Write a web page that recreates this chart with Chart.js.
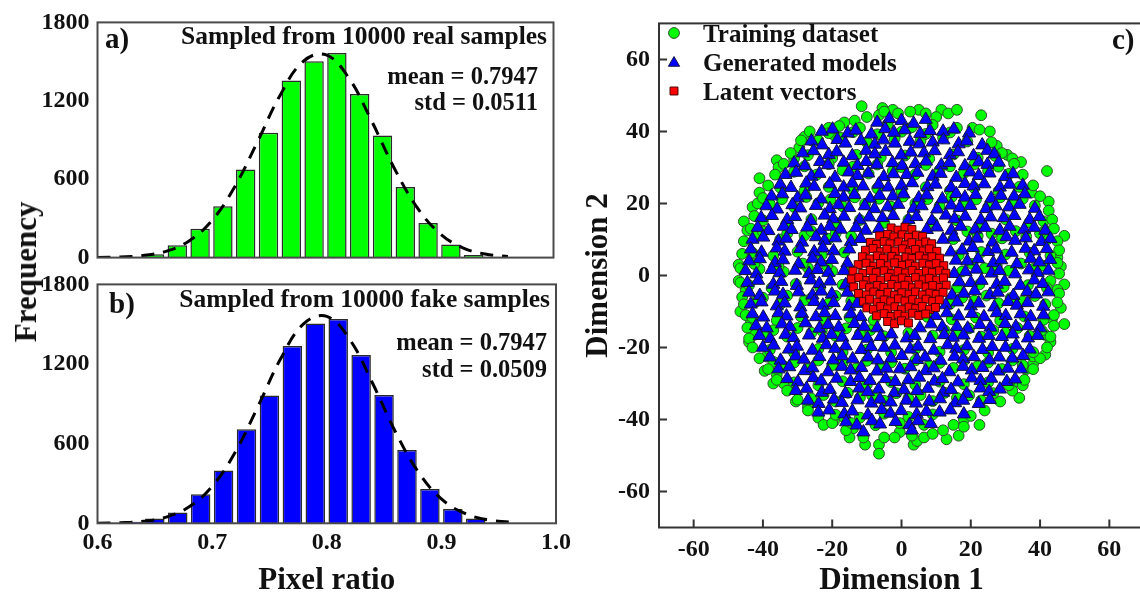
<!DOCTYPE html>
<html>
<head>
<meta charset="utf-8">
<script src="https://cdn.jsdelivr.net/npm/chart.js@4.4.1/dist/chart.umd.min.js"></script>
<style>
  body { margin: 0; width: 1140px; height: 595px; overflow: hidden; background: #fff; position: relative; }
  canvas { position: absolute; }
  #freq { position: absolute; left: 26px; top: 272px; transform: translate(-50%, -50%) rotate(-90deg);
          font: bold 31px 'Liberation Serif', 'Times New Roman', serif; color: #111; white-space: nowrap; }
</style>
</head>
<body>
<canvas id="histReal" width="580" height="280" style="left:0;top:0"></canvas>
<canvas id="histFake" width="580" height="333" style="left:0;top:262px"></canvas>
<canvas id="scatter" width="600" height="595" style="left:580px;top:0"></canvas>
<div id="freq">Frequency</div>
<script>
// ---- histogram data (bin centres, counts) ----
const binCenters = [0.61, 0.63, 0.65, 0.67, 0.69, 0.71, 0.73, 0.75, 0.77, 0.79, 0.81, 0.83, 0.85, 0.87, 0.89, 0.91, 0.93, 0.95, 0.97];
const realCounts = [2, 6, 25, 95, 220, 393, 675, 955, 1355, 1502, 1565, 1252, 935, 540, 265, 100, 20, 4, 1];
const fakeCounts = [2, 12, 37, 82, 219, 398, 709, 963, 1336, 1506, 1539, 1268, 966, 553, 259, 107, 37, 6, 2];

// dashed normal-fit curves
const fitX = [0.60, 0.62, 0.64, 0.66, 0.68, 0.70, 0.72, 0.74, 0.76, 0.78, 0.80, 0.82, 0.84, 0.86, 0.88, 0.90, 0.92, 0.94, 0.96];
const realFit = [1, 5, 16, 48, 126, 280, 536, 880, 1239, 1498, 1553, 1381, 1054, 690, 388, 187, 77, 27, 8];
const fakeFit = [1, 4, 15, 47, 124, 278, 534, 880, 1243, 1504, 1559, 1386, 1055, 688, 385, 184, 76, 27, 8];

const freqTicks = [0, 600, 1200, 1800];
const ratioTicks = [0.6, 0.7, 0.8, 0.9, 1.0];
const dimTicks = [-60, -40, -20, 0, 20, 40, 60];

// ---- scatter data ----
const trainingDataset = [
  // outer points
  [-11.5,47],[-5.5,46.5],[-2.5,46],[-6.5,44.5],[5,46],[11.5,46],[13.5,45],[16,46],[23,44.5],[20.5,41],[25.5,40],
  [-16.5,42.5],[-13.5,43],[-21,41],[-19,38.5],[-28,38.5],[-26,37.5],[-29.5,35.5],[-36,32],[-35.5,30],[-31,32.5],
  [-41,27],[-41,23],[-43,19],[-41.5,20],[-45.5,15],[-44.5,12.5],[-47,3],[-47,-1.5],[-45,-4],
  [27.5,36],[30.5,33.5],[32,32.5],[34.5,31.5],[42,29],[37.5,23],[42.5,20.5],[41,15],[47,11],[41.5,12.5],
  [45,5],[46,2.5],[47,-2.5],[45,-4],[43,-1.5],
  [-46.5,-10],[-43.5,-12.5],[-44,-18.5],[-42.5,-16.5],[-39,-22.5],[-37,-24],[-39.5,-26.5],[-36,-27.5],[-37,-30],
  [-34,-30],[-30.5,-35],[-27,-36.5],[-24,-39.5],[-22.5,-41.5],[-19.5,-40.5],[-16.5,-39.5],[-14,-42.5],[-15,-45],
  [-10.5,-47],[-6.5,-47],[-6.5,-49.5],[-5,-45],[-0.5,-43.5],[3.5,-47],[4.5,-46],[6.5,-45],[13,-45.5],[16.5,-44.5],
  [15,-41.5],[18,-40],[20,-39],[22.5,-41.5],[34,-34],[33,-29.5],[35,-30.5],[36,-26],[38,-24.5],[38,-22.5],
  [41.5,-22],[43,-18.5],[41.5,-16.5],[43.5,-12],[47,-13.5],[46,-9],
  // fringe just outside the triangles
  [-10,44],[-26.5,40],[-29,37.5],[-32,34],[-34,31],[-36.5,28],[-38.5,25],[-40,21.5],[-42.5,16.5],[-43.5,13],
  [-45.5,9.5],[-46,6],[-46.5,2],[-46.5,-2],[-46,-6],[-45.5,-8],[-45,-11],[-44.5,-14.5],[-44,-17.5],[-43,-20],
  [-41,-23],[-38.5,-26],[-36,-29],[-33,-32],[-30,-34.5],[-27,-37.5],[-20,-41],[-16,-43],[-11,-45],[-2,-45],[3,-44.5],[9,-44],
  [10,44],[22.5,40.5],[26,37],[29,34],[32.5,31],[35,28],[38,25],[40,22],[42.5,18],[43.5,15.5],[44,13],[45,9.5],
  [45.5,7],[45,3.5],[45.5,0.5],[45.5,-5],[45,-7.5],[44,-11],[44,-14],[43,-17],[42,-20],[40,-23],[38,-26],
  [35.5,-29],[32,-32],[28.5,-35],[24,-37.5],[18,-42],[12,-43],
  [-5,45.5],[-1,45],[2.5,45.5],[7,45],
  // inside the ring
  [-18,41.5],[-12,41],[-4,42],[3,41.2],[9,41.8],[16,41],
  [-24,37.5],[-17.5,38.2],[-10,37],[-2,38],[5.5,37.4],[12,38.3],[19,37.2],
  [-27,33.4],[-20,32.6],[-13,33.5],[-6,32.8],[1,33.3],[8,32.4],[15,33.6],[22,32.7],[27,33.2],
  [-31,28.8],[-24.5,28],[-17,29.2],[-9.5,28.3],[-2.5,29],[4,28.1],[11,29.3],[18,28.4],[25,29.1],[31,28.2],
  [-35,24.4],[-28,23.5],[-21,24.6],[-14,23.7],[-7,24.2],[0,23.4],[7,24.5],[14,23.6],[21,24.3],[28,23.4],[34,24.6],
  [-38,19.8],[-31,19],[-24,20.1],[-17,19.2],[-10.5,19.9],[-3,19.1],[4,20],[11,19.3],[18,19.8],[25,19],[32,20],[38.5,19.4],
  [-40,15.3],[-33,14.5],[-26,15.6],[-19,14.7],[-12,15.4],[-5,14.6],[2,15.5],[9,14.8],[16,15.3],[23,14.5],[30,15.6],[37,14.8],
  [-42,10.8],[-35,10],[-28,11.1],[-21,10.2],[-14.5,10.9],[15,10.1],[22,11],[29,10.3],[36,10.8],[42,10],
  [-43,6.3],[-37,5.5],[-30,6.6],[-23,5.7],[-16.5,6.4],[16.5,5.6],[23,6.5],[30,5.8],[37,6.3],[43,5.5],
  [-41,1.8],[-34,1],[-27,2.1],[-20,1.2],[-15.5,1.9],[17.5,1.1],[24,2],[31,1.3],[38,1.8],
  [-44,-2.7],[-37.5,-3.5],[-30.5,-2.4],[-23.5,-3.3],[-17,-2.6],[16,-3.4],[22.5,-2.5],[29.5,-3.2],[36.5,-2.7],[42,-3.5],
  [-42,-7.2],[-35,-8],[-28,-6.9],[-21,-7.8],[-14.5,-7.1],[14,-7.9],[21,-7],[28,-7.7],[35,-7.2],[41.5,-8],
  [-43,-11.7],[-36,-12.5],[-29,-11.4],[-22,-12.3],[-15,-11.6],[-8,-12.4],[7.5,-11.5],[14.5,-12.2],[21.5,-11.7],[28.5,-12.5],[35.5,-11.4],[41,-12.3],
  [-40,-16.2],[-33,-17],[-26,-15.9],[-19,-16.8],[-12,-16.1],[-5,-16.9],[2,-16],[9,-16.7],[16,-16.2],[23,-17],[30,-15.9],[37,-16.8],
  [-38,-20.7],[-31,-21.5],[-24,-20.4],[-17,-21.3],[-10,-20.6],[-3,-21.4],[4,-20.5],[11,-21.2],[18,-20.7],[25,-21.5],[32,-20.4],[38,-21.3],
  [-34,-25.2],[-27,-26],[-20,-24.9],[-13,-25.8],[-6,-25.1],[1,-25.9],[8,-25],[15,-25.7],[22,-25.2],[29,-26],[35,-24.9],
  [-31,-29.7],[-24,-30.5],[-17,-29.4],[-10,-30.3],[-3,-29.6],[4,-30.4],[11,-29.5],[18,-30.2],[25,-29.7],[31,-30.5],
  [-26,-34.2],[-19,-35],[-12,-33.9],[-5,-34.8],[2,-34.1],[9,-34.9],[16,-34],[23,-34.7],
  [-19,-38.7],[-12,-39.5],[-5,-38.4],[2,-39.3],[9,-38.6],
  // more green showing between the triangles
  [-21,39.5],[-14,39.8],[-7,39.2],[0,39.9],[7,39.3],[14,39.7],
  [-28,30.3],[-21,30.9],[-14,30.2],[-7,30.8],[0,30.1],[7,30.7],[14,30.3],[21,30.9],[28,30.2],
  [-34.5,21.2],[-27.5,21.8],[-20.5,21.1],[-13.5,21.7],[-6.5,21.3],[0.5,21.9],[7.5,21.2],[14.5,21.8],[21.5,21.1],[28.5,21.7],[35,21.3],
  [-40,12.2],[-33,11.6],[-26,12.3],[-19,11.7],[19,12.2],[26,11.6],[33,12.3],[40,11.7],
  [-42.5,3.2],[-35.5,2.6],[-28.5,3.3],[-21.5,2.7],[20.5,3.2],[27.5,2.6],[34.5,3.3],[41,2.7],
  [-40,-6.2],[-33,-5.6],[-26,-6.3],[-19,-5.7],[17.5,-6.2],[24.5,-5.6],[31.5,-6.3],[38.5,-5.7],
  [-37,-15.2],[-30,-14.6],[-23,-15.3],[-16,-14.7],[-9,-15.2],[12.5,-15.3],[19.5,-14.7],[26.5,-15.2],[33.5,-14.6],[40.5,-15.3],
  [-31,-24.2],[-24,-23.6],[-17,-24.3],[-10,-23.7],[-3,-24.2],[4,-23.6],[11,-24.3],[18,-23.7],[25,-24.2],[32,-23.6],
  [-22.5,-33.2],[-15.5,-32.6],[-8.5,-33.3],[-1.5,-32.7],[5.5,-33.2],[12.5,-32.6],[19.5,-33.3],[26.5,-32.7],
  [-14.5,-41],[-7.5,-41.6],[-0.5,-41],[6.5,-41.5]
];

const generatedModels = [
  [-7,42.5],[-3.5,43.5],[0,43],[3.5,42.2],[7,43.3],
  [-23,40],[-19.9,40.6],[-15.5,39.5],[-13.2,40.3],[-8.7,39.2],[-4.7,40.7],[-2.2,39.7],[0.9,40.4],[5.4,39.4],[8.2,40.2],[12,40],[15.1,40.6],[19.5,39.5],
  [-26,37.3],[-22.9,36.2],[-18.5,37.7],[-16.2,36.7],[-11.7,37.4],[-7.7,36.4],[-5.2,37.6],[-1.9,36.7],[2.4,37.2],[5.2,36.5],[9,37],[12.1,37.6],[16.5,36.5],[18.8,37.3],[23.3,36.2],
  [-28.5,34],[-25.4,34.6],[-21,33.5],[-18.7,34.3],[-14.2,33.2],[-10.2,34.7],[-7.7,33.7],[-4.6,34.4],[-0.1,33.4],[2.7,34.2],[6.5,34],[9.6,34.6],[14,33.5],[16.3,34.3],[20.8,33.2],[24.8,34.7],[26.8,33.7],
  [-31,31.2],[-27.9,30.4],[-23.5,31.6],[-21.2,30.7],[-16.7,31.4],[-12.7,30.5],[-10.2,31.6],[-7.1,30.8],[-2.6,31.3],[0.2,30.5],[4,31],[7.1,31.7],[11.5,30.6],[13.8,31.3],[18.3,30.4],[22.3,31.5],[24.8,30.8],[28.1,31.4],
  [-33.5,28],[-30.4,28.6],[-26,27.5],[-23.7,28.3],[-19.2,27.2],[-15.2,28.7],[-12.7,27.7],[-9.6,28.4],[-5.1,27.4],[-2.3,28.2],[1.5,28],[4.6,28.6],[9,27.5],[11.3,28.3],[15.8,27.2],[19.8,28.7],[22.3,27.7],[25.4,28.4],[29.9,27.4],[32.2,28.2],
  [-35,25.3],[-31.9,24.4],[-27.5,25.6],[-25.2,24.7],[-20.7,25.4],[-16.7,24.5],[-14.2,25.6],[-11.1,24.8],[-6.6,25.3],[-3.8,24.5],[0,25],[3.1,25.7],[7.5,24.6],[9.8,25.3],[14.3,24.4],[18.3,25.5],[20.8,24.8],[23.9,25.4],[28.4,24.5],[31.2,25.3],[35,25],
  [-37.5,22],[-34.4,22.6],[-30,21.5],[-27.7,22.3],[-23.2,21.2],[-19.2,22.7],[-16.7,21.7],[-13.6,22.4],[-9.1,21.4],[-6.3,22.2],[-2.5,22],[0.6,22.6],[5,21.5],[7.3,22.3],[11.8,21.2],[15.8,22.7],[18.3,21.7],[21.4,22.4],[25.9,21.4],[28.7,22.2],[32.5,22],[35.6,22.6],
  [-39,19.3],[-35.9,18.4],[-31.5,19.6],[-29.2,18.7],[-24.7,19.4],[-20.7,18.5],[-18.2,19.6],[-15.1,18.8],[-10.6,19.3],[-7.8,18.5],[-4,19],[-0.9,19.7],[3.5,18.6],[5.8,19.3],[10.3,18.4],[14.3,19.5],[16.8,18.8],[19.9,19.4],[24.4,18.5],[27.2,19.3],[31,19],[34.1,19.7],[38.5,18.6],
  [-40.5,16],[-37.4,16.6],[-33,15.5],[-30.7,16.3],[-26.2,15.2],[-22.2,16.7],[-19.7,15.7],[-16.6,16.4],[-12.1,15.4],[-9.3,16.2],[-5.5,16],[-2.4,16.6],[2,15.5],[4.3,16.3],[8.8,15.2],[12.8,16.7],[15.3,15.7],[18.4,16.4],[22.9,15.4],[25.7,16.2],[29.5,16],[32.6,16.6],[37,15.5],[39.8,16.3],
  [-41.5,13.3],[-38.4,12.4],[-34,13.6],[-31.7,12.7],[-27.2,13.4],[-23.2,12.5],[-20.7,13.6],[-17.6,12.8],[-13.1,13.3],[-10.3,12.5],[-6.5,13],[7.3,12.7],[10.2,13.4],[14.4,12.5],[17.1,13.6],[21.3,12.8],[24.2,13.3],[28.4,12.5],[31.2,13.6],[35.4,12.8],[38.3,13.3],[41.5,12.5],
  [-43,10],[-39.9,10.6],[-35.5,9.5],[-33.2,10.3],[-28.7,9.2],[-24.7,10.7],[-22.2,9.7],[-19.1,10.4],[-14.6,9.4],[-11.8,10.2],[12,10],[15.1,10.6],[19.5,9.5],[21.8,10.3],[26.3,9.2],[30.3,10.7],[32.8,9.7],[35.9,10.4],[40.4,9.4],[43,10.2],
  [-43.5,7.3],[-40.4,6.4],[-36,7.6],[-33.7,6.7],[-29.2,7.4],[-25.2,6.5],[-22.7,7.6],[-19.6,6.8],[-15.1,7.3],[14.2,6.5],[17.5,7],[20.6,7.7],[25,6.6],[27.3,7.3],[31.8,6.4],[35.8,7.5],[38.3,6.8],[41.9,7.4],
  [-44,4],[-40.9,4.6],[-36.5,3.5],[-34.2,4.3],[-29.7,3.2],[-25.7,4.7],[-23.2,3.7],[-20.1,4.4],[-15.6,3.4],[15.7,4.2],[19,4],[22.1,4.6],[26.5,3.5],[28.8,4.3],[33.3,3.2],[37.3,4.7],[39.8,3.7],[42.9,4.4],
  [-45,1.3],[-41.9,0.4],[-37.5,1.6],[-35.2,0.7],[-30.7,1.4],[-26.7,0.5],[-24.2,1.6],[-21.1,0.8],[-16.6,1.3],[15.2,0.5],[18.5,1],[21.6,1.7],[26,0.6],[28.3,1.3],[32.8,0.4],[36.8,1.5],[39.3,0.8],[42.4,1.4],
  [-44.5,-2],[-41.4,-1.4],[-37,-2.5],[-34.7,-1.7],[-30.2,-2.8],[-26.2,-1.3],[-23.7,-2.3],[-20.6,-1.6],[-16.1,-2.6],[16.7,-1.8],[20,-2],[23.1,-1.4],[27.5,-2.5],[29.8,-1.7],[34.3,-2.8],[38.3,-1.3],[40.8,-2.3],
  [-44,-4.7],[-40.9,-5.6],[-36.5,-4.4],[-34.2,-5.3],[-29.7,-4.6],[-25.7,-5.5],[-23.2,-4.4],[-20.1,-5.2],[-15.6,-4.7],[14.6,-5.5],[18,-5],[21.1,-4.3],[25.5,-5.4],[27.8,-4.7],[32.3,-5.6],[36.3,-4.5],[38.8,-5.2],[42.4,-4.6],
  [-43.5,-8],[-40.4,-7.4],[-36,-8.5],[-33.7,-7.7],[-29.2,-8.8],[-25.2,-7.3],[-22.7,-8.3],[-19.6,-7.6],[-15.1,-8.6],[-12.8,-7.8],[12.8,-8.2],[16.1,-7.4],[20,-8.5],[22.3,-7.7],[26.8,-8.8],[30.8,-7.3],[33.3,-8.3],[36.4,-7.6],[40.9,-8.6],
  [-43,-10.7],[-39.9,-11.6],[-35.5,-10.4],[-33.2,-11.3],[-28.7,-10.6],[-24.7,-11.5],[-22.2,-10.4],[-19.1,-11.2],[-14.6,-10.7],[-11.8,-11.5],[9.8,-11.2],[13.1,-10.4],[16.5,-11.3],[20.3,-10.6],[23.8,-11.5],[27.5,-10.4],[30.1,-11.2],[34.4,-10.7],[37.3,-11.5],[41,-11],
  [-42,-14],[-38.9,-14.6],[-34.5,-13.5],[-32.2,-14.3],[-27.7,-13.2],[-23.7,-14.7],[-21.2,-13.7],[-18.1,-14.4],[-13.6,-13.4],[-10.8,-14.2],[-7,-14.6],[5.3,-14.6],[8.5,-13.5],[11.8,-14.3],[16,-14.2],[19.1,-14.7],[22.6,-13.7],[25.7,-14.4],[29.9,-13.4],[33,-14.2],[36.5,-14],[40,-14.6],
  [-41,-16.7],[-37.9,-17.6],[-33.5,-16.4],[-31.2,-17.3],[-26.7,-16.6],[-22.7,-17.5],[-20.2,-16.4],[-17.1,-17.2],[-12.6,-16.7],[-9.8,-17.5],[-6,-17],[-2.9,-16.3],[1.5,-17.4],[3.8,-16.7],[8.3,-17.6],[12.3,-16.5],[14.8,-17.2],[17.9,-16.6],[22.4,-17.5],[25.2,-16.7],[29,-17],[32.1,-16.3],[36.5,-17.4],[39.3,-16.7],
  [-40,-20],[-36.9,-19.4],[-32.5,-20.5],[-30.2,-19.7],[-25.7,-20.8],[-21.7,-19.3],[-19.2,-20.3],[-16.1,-19.6],[-11.6,-20.6],[-8.8,-19.8],[-5,-20],[-1.9,-19.4],[2.5,-20.5],[4.8,-19.7],[9.3,-20.8],[13.3,-19.3],[15.8,-20.3],[18.9,-19.6],[23.4,-20.6],[26.2,-19.8],[30,-20],[33.1,-19.4],[37,-20.5],
  [-38,-22.7],[-34.9,-23.6],[-30.5,-22.4],[-28.2,-23.3],[-23.7,-22.6],[-19.7,-23.5],[-17.2,-22.4],[-14.1,-23.2],[-9.6,-22.7],[-6.8,-23.5],[-3,-23],[0.1,-22.3],[4.5,-23.4],[6.8,-22.7],[11.3,-23.6],[15.3,-22.5],[17.8,-23.2],[20.9,-22.6],[25.4,-23.5],[28.2,-22.7],[32,-23],[35.1,-22.3],
  [-35.5,-26],[-32.4,-25.4],[-28,-26.5],[-25.7,-25.7],[-21.2,-26.8],[-17.2,-25.3],[-14.7,-26.3],[-11.6,-25.6],[-7.1,-26.6],[-4.3,-25.8],[-0.5,-26],[2.6,-25.4],[7,-26.5],[9.3,-25.7],[13.8,-26.8],[17.8,-25.3],[20.3,-26.3],[23.4,-25.6],[27.9,-26.6],[30.7,-25.8],[34.5,-26],
  [-33,-28.7],[-29.9,-29.6],[-25.5,-28.4],[-23.2,-29.3],[-18.7,-28.6],[-14.7,-29.5],[-12.2,-28.4],[-9.1,-29.2],[-4.6,-28.7],[-1.8,-29.5],[2,-29],[5.1,-28.3],[9.5,-29.4],[11.8,-28.7],[16.3,-29.6],[20.3,-28.5],[22.8,-29.2],[25.9,-28.6],[30.4,-29.5],[32.8,-28.8],
  [-30.5,-32],[-27.4,-31.4],[-23,-32.5],[-20.7,-31.7],[-16.2,-32.8],[-12.2,-31.3],[-9.7,-32.3],[-6.6,-31.6],[-2.1,-32.6],[0.7,-31.8],[4.5,-32],[7.6,-31.4],[12,-32.5],[14.3,-31.7],[18.8,-32.8],[22.8,-31.3],[25.3,-32.3],[28.4,-31.6],
  [-27,-34.7],[-23.9,-35.6],[-19.5,-34.4],[-17.2,-35.3],[-12.7,-34.6],[-8.7,-35.5],[-6.2,-34.4],[-3.1,-35.2],[1.4,-34.7],[4.2,-35.5],[8,-35],[11.1,-34.3],[15.5,-35.4],[17.8,-34.7],[22.3,-35.6],[25.5,-34.5],
  [-24,-38],[-20.9,-37.4],[-16.5,-38.5],[-14.2,-37.7],[-9.7,-38.8],[-5.7,-37.3],[-3.2,-38.3],[-0.1,-37.6],[4.4,-38.6],[7.2,-37.8],[11,-38],[14.1,-37.4],[18,-38.5],
  [-16,-40.7],[-12.9,-41.6],[-8.5,-40.4],[-6.2,-41.3],[-1.7,-40.6],[2.3,-41.5],[4.8,-40.4],[8.5,-41.2],[-11,-43.5],[3,-43]
];

const latentVectors = [
  [-3,13.2],[-1,12.6],[1,13.4],[3,12.8],
  [-6.3,11],[-4,11.4],[-2.2,10.7],[0.2,11.3],[2,10.6],[4.3,11.2],[6.1,10.8],
  [-9,9.2],[-7.2,8.6],[-5,9.4],[-3.3,8.8],[-0.8,9.3],[1.2,8.5],[3,9.1],[5.2,8.7],[7,9.3],[8.7,8.8],
  [-10.4,7],[-8.2,7.5],[-6,6.6],[-4.2,7.3],[-1.8,6.8],[0.3,7.4],[2.2,6.5],[4,7.2],[6.3,6.8],[8,7.4],[10.2,6.7],
  [-11.3,5.2],[-9.1,4.6],[-7,5.4],[-5.2,4.8],[-2.8,5.3],[-1,4.5],[1.3,5.1],[3,4.7],[5.2,5.4],[7.1,4.6],[8.8,5.2],[11,4.8],
  [-12.5,3],[-10.2,3.4],[-8,2.6],[-6.1,3.3],[-3.8,2.7],[-2,3.5],[0.2,2.8],[2.3,3.2],[4,2.6],[6.2,3.4],[8.1,2.9],[10,3.3],[12.2,2.7],
  [-14,1.2],[-11.2,0.6],[-9,1.4],[-7.3,0.8],[-5,1.3],[-2.9,0.5],[-1,1.1],[1.2,0.7],[3.1,1.4],[5,0.6],[7.2,1.2],[8.9,0.8],[11,1.3],[12.8,0.6],
  [-14.5,-1],[-12.3,-0.6],[-10,-1.4],[-8.2,-0.8],[-6,-1.3],[-3.8,-0.5],[-2,-1.2],[0.2,-0.7],[2.1,-1.4],[4,-0.6],[6.3,-1.2],[8,-0.8],[10.2,-1.3],[12.1,-0.7],
  [-13.8,-3.2],[-11,-2.6],[-9.2,-3.4],[-7,-2.8],[-5.1,-3.3],[-2.8,-2.5],[-1,-3.1],[1,-2.7],[3.2,-3.4],[5,-2.6],[7.1,-3.2],[9,-2.8],[11.2,-3.3],[12.9,-2.7],
  [-12.4,-5],[-10.1,-5.4],[-8,-4.6],[-6.2,-5.3],[-3.9,-4.7],[-2,-5.5],[0.1,-4.8],[2.2,-5.2],[4,-4.6],[6.1,-5.4],[8.2,-4.9],[10,-5.3],[12,-4.7],
  [-11,-7.2],[-9.2,-6.6],[-7,-7.4],[-5,-6.8],[-3.1,-7.3],[-0.9,-6.5],[1,-7.1],[3.2,-6.7],[5,-7.4],[7.1,-6.6],[9,-7.2],[10.9,-6.8],
  [-10,-9],[-8.1,-9.4],[-6,-8.6],[-4,-9.3],[-1.9,-8.7],[0,-9.5],[2.2,-8.8],[4.1,-9.2],[6,-8.6],[8.1,-9.4],[9.8,-8.9],
  [-7.2,-11.2],[-5,-10.6],[-3,-11.4],[-1,-10.8],[1,-11.3],[3.2,-10.5],[5,-11.1],[7,-10.7],
  [-4,-12.8],[-2,-13.4],[0,-12.6],[2,-13.2]
];

const FONT = "'Liberation Serif', 'Times New Roman', serif";
Chart.defaults.font.family = FONT;
Chart.defaults.font.weight = 'bold';
Chart.defaults.color = '#111';

// box around the plot area, optional inward ticks
const framePlugin = {
  id: 'frame',
  afterDatasetsDraw(chart, args, opts) {
    const { ctx, chartArea: a } = chart;
    ctx.save();
    ctx.strokeStyle = opts.color || '#444';
    ctx.lineWidth = 2;
    ctx.strokeRect(a.left, a.top, a.right - a.left, a.bottom - a.top);
    if (opts.ticks) {
      const xs = chart.scales.x, ys = chart.scales.y;
      ctx.beginPath();
      xs.ticks.forEach(t => { const p = xs.getPixelForValue(t.value); ctx.moveTo(p, a.bottom); ctx.lineTo(p, a.bottom - 8); });
      ys.ticks.forEach(t => { const p = ys.getPixelForValue(t.value); ctx.moveTo(a.left, p); ctx.lineTo(a.left + 8, p); });
      ctx.stroke();
    }
    ctx.restore();
  }
};

// free text and legend symbols drawn on top
const notesPlugin = {
  id: 'notes',
  afterDraw(chart, args, opts) {
    const ctx = chart.ctx;
    ctx.save();
    (opts.symbols || []).forEach(s => {
      ctx.beginPath();
      if (s.style === 'circle') ctx.arc(s.x, s.y, s.r, 0, Math.PI * 2);
      else if (s.style === 'triangle') {
        ctx.moveTo(s.x, s.y - s.r);
        ctx.lineTo(s.x + s.r * 0.866, s.y + s.r * 0.5);
        ctx.lineTo(s.x - s.r * 0.866, s.y + s.r * 0.5);
        ctx.closePath();
      } else ctx.rect(s.x - s.r * 0.707, s.y - s.r * 0.707, s.r * 1.414, s.r * 1.414);
      ctx.fillStyle = s.fill; ctx.fill();
      ctx.lineWidth = 1; ctx.strokeStyle = s.stroke; ctx.stroke();
    });
    ctx.fillStyle = '#111';
    ctx.textBaseline = 'alphabetic';
    (opts.items || []).forEach(it => {
      ctx.font = 'bold ' + it.size + 'px ' + FONT;
      ctx.textAlign = it.align || 'left';
      ctx.fillText(it.text, it.x, it.y);
    });
    ctx.restore();
  }
};

function histogram(id, counts, fit, color, showX, pad, notes) {
  return new Chart(document.getElementById(id), {
    type: 'bar',
    plugins: [framePlugin, notesPlugin],
    data: {
      datasets: [
        {
          type: 'line',
          data: fitX.map((x, i) => ({ x: x, y: fit[i] })),
          borderColor: '#000', borderWidth: 3, borderDash: [13, 9],
          pointRadius: 0, tension: 0.4, order: 0
        },
        {
          type: 'bar',
          data: binCenters.map((x, i) => ({ x: x, y: counts[i] })),
          backgroundColor: color, borderColor: '#2a2a2a', borderWidth: 1.5,
          barPercentage: 0.85, categoryPercentage: 1, order: 1
        }
      ]
    },
    options: {
      responsive: false, animation: false, events: [],
      layout: { padding: pad },
      plugins: { legend: { display: false }, tooltip: { enabled: false }, frame: { color: '#4a4a4a' }, notes: { items: notes } },
      scales: {
        x: {
          type: 'linear', min: 0.6, max: 1.0, offset: false, display: showX,
          grid: { display: false, drawTicks: false }, border: { display: false },
          afterBuildTicks: s => { s.ticks = ratioTicks.map(v => ({ value: v })); },
          afterFit: s => { s.height = showX ? 71.7 : 0; },
          ticks: { font: { size: 24 }, padding: 5, callback: v => v.toFixed(1) },
          title: { display: true, text: 'Pixel ratio', font: { size: 31 }, padding: { top: 0, bottom: -5 } }
        },
        y: {
          min: 0, max: 1800,
          grid: { display: false, drawTicks: false }, border: { display: false },
          afterBuildTicks: s => { s.ticks = freqTicks.map(v => ({ value: v })); },
          afterFit: s => { s.width = 97.5; },
          ticks: { font: { size: 24 }, padding: 8, callback: v => String(v) }
        }
      }
    }
  });
}

histogram('histReal', realCounts, realFit, '#00ff00', false, { top: 19, right: 26.5, bottom: 20, left: 0 }, [
  { text: 'a)', x: 105, y: 48, size: 29 },
  { text: 'Sampled from 10000 real samples', x: 547, y: 44, size: 25.5, align: 'right' },
  { text: 'mean = 0.7947', x: 538, y: 84, size: 24.5, align: 'right' },
  { text: 'std = 0.0511', x: 538, y: 110, size: 24.5, align: 'right' }
]);

histogram('histFake', fakeCounts, fakeFit, '#0000ff', true, { top: 20, right: 24, bottom: 0, left: 0 }, [
  { text: 'b)', x: 109, y: 313 - 262, size: 29 },
  { text: 'Sampled from 10000 fake samples', x: 550, y: 307 - 262, size: 25.5, align: 'right' },
  { text: 'mean = 0.7947', x: 547, y: 350 - 262, size: 24.5, align: 'right' },
  { text: 'std = 0.0509', x: 547, y: 377 - 262, size: 24.5, align: 'right' }
]);

const toPoints = arr => arr.map(p => ({ x: p[0], y: p[1] }));

new Chart(document.getElementById('scatter'), {
  type: 'scatter',
  plugins: [framePlugin, notesPlugin],
  data: {
    datasets: [
      { label: 'Training dataset', data: toPoints(trainingDataset), pointStyle: 'circle', pointRadius: 5.4,
        backgroundColor: '#00ff00', borderColor: '#2f4f2f', borderWidth: 1, order: 3 },
      { label: 'Generated models', data: toPoints(generatedModels), pointStyle: 'triangle', pointRadius: 7.6,
        backgroundColor: '#0000ff', borderColor: '#14143c', borderWidth: 1, order: 2 },
      { label: 'Latent vectors', data: toPoints(latentVectors), pointStyle: 'rect', pointRadius: 5.6,
        backgroundColor: '#ff0000', borderColor: '#4a0000', borderWidth: 1, order: 1 }
    ]
  },
  options: {
    responsive: false, animation: false, events: [],
    layout: { padding: { top: 16.5, right: 36, bottom: 0, left: 0 } },
    plugins: {
      legend: { display: false }, tooltip: { enabled: false },
      frame: { color: '#333', ticks: true },
      notes: {
        symbols: [
          { style: 'circle', x: 94, y: 33, r: 5.4, fill: '#00ff00', stroke: '#2f4f2f' },
          { style: 'triangle', x: 94, y: 63, r: 6.5, fill: '#0000ff', stroke: '#14143c' },
          { style: 'rect', x: 94, y: 91, r: 5.6, fill: '#ff0000', stroke: '#4a0000' }
        ],
        items: [
          { text: 'Training dataset', x: 123, y: 42, size: 25 },
          { text: 'Generated models', x: 123, y: 71, size: 25 },
          { text: 'Latent vectors', x: 123, y: 100, size: 25 },
          { text: 'c)', x: 532, y: 49, size: 29 }
        ]
      }
    },
    scales: {
      x: {
        type: 'linear', min: -70, max: 70,
        grid: { display: false, drawTicks: false }, border: { display: false },
        afterBuildTicks: s => { s.ticks = dimTicks.map(v => ({ value: v })); },
        afterFit: s => { s.height = 67.5; },
        ticks: { font: { size: 24 }, padding: 8 },
        title: { display: true, text: 'Dimension 1', font: { size: 31 }, padding: { top: 0, bottom: -5 } }
      },
      y: {
        type: 'linear', min: -70, max: 70,
        grid: { display: false, drawTicks: false }, border: { display: false },
        afterBuildTicks: s => { s.ticks = dimTicks.map(v => ({ value: v })); },
        afterFit: s => { s.width = 79; },
        ticks: { font: { size: 24 }, padding: 9 },
        title: { display: true, text: 'Dimension 2', font: { size: 31 }, padding: 0 }
      }
    }
  }
});
</script>
</body>
</html>
